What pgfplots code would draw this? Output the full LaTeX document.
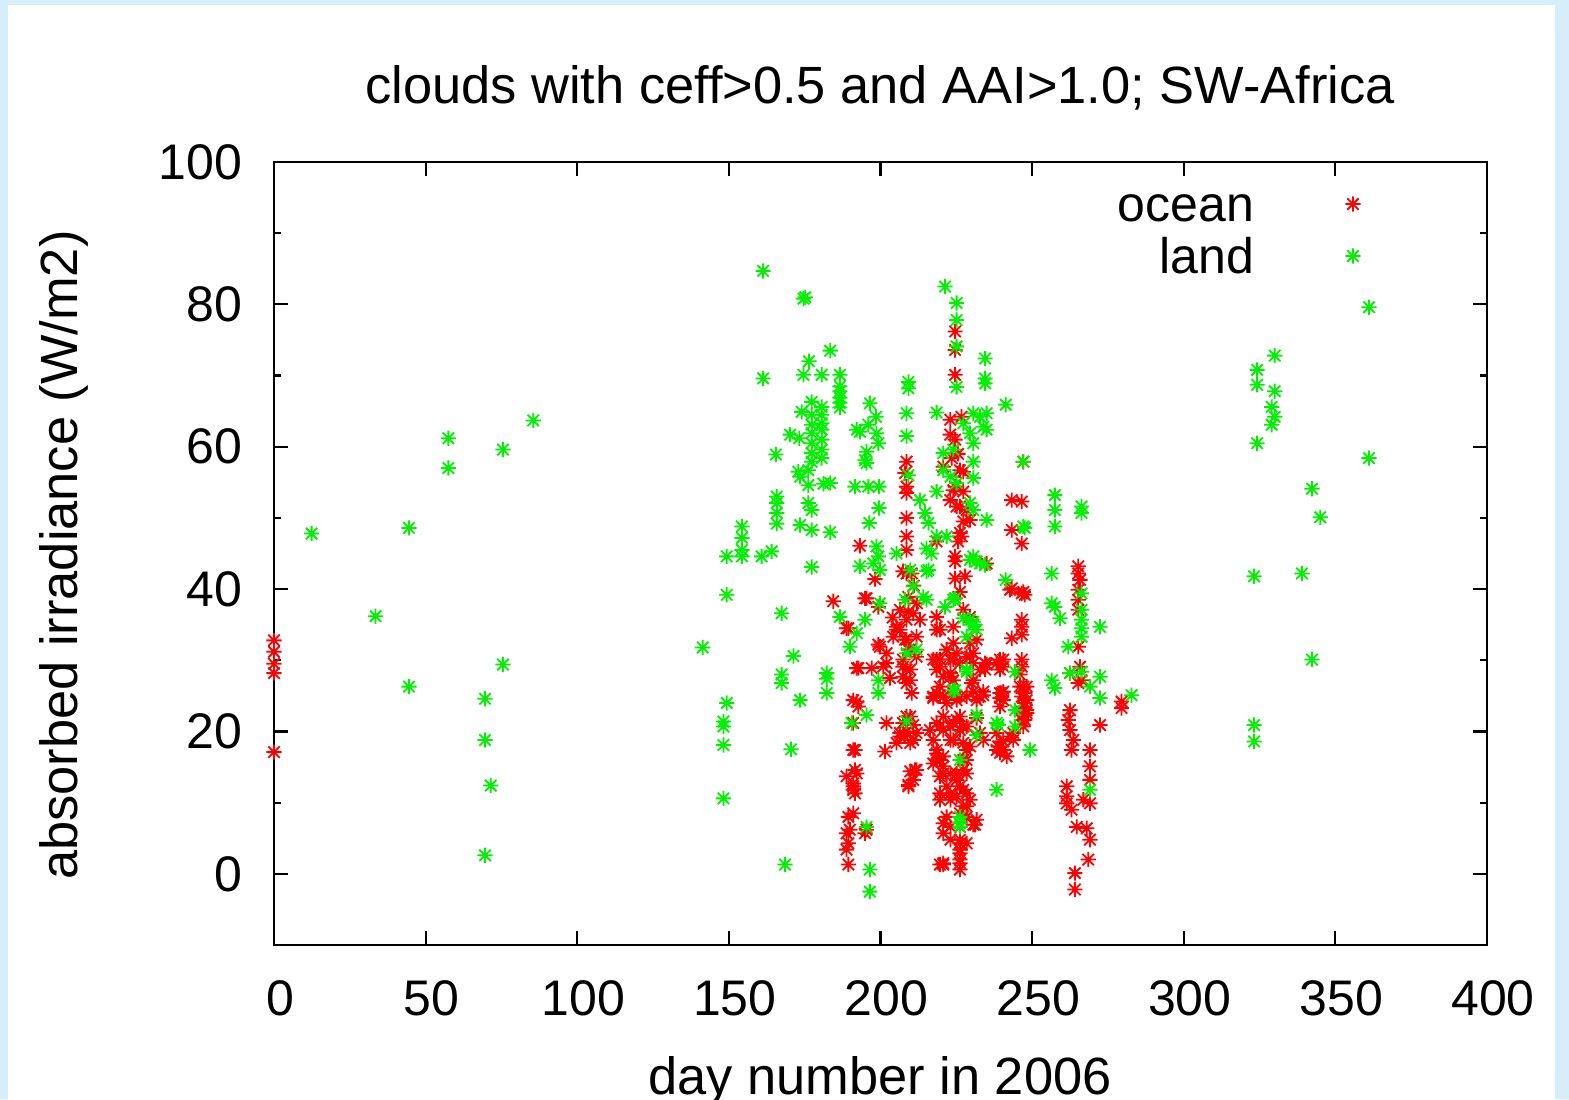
\documentclass[border=0pt]{standalone}
\usepackage{fontspec}
\setmainfont{Liberation Sans}
\usepackage{pgfplots}
\usepackage{pgfplotstable}
\pgfplotsset{compat=1.18}
\definecolor{framebg}{RGB}{214,238,250}
\definecolor{gpred}{RGB}{255,0,0}
\definecolor{gpgreen}{RGB}{0,240,0}
\pgfdeclareplotmark{gpstar}{%
  \pgfpathmoveto{\pgfqpoint{-\pgfplotmarksize}{0pt}}%
  \pgfpathlineto{\pgfqpoint{\pgfplotmarksize}{0pt}}%
  \pgfpathmoveto{\pgfqpoint{0pt}{-\pgfplotmarksize}}%
  \pgfpathlineto{\pgfqpoint{0pt}{\pgfplotmarksize}}%
  \pgfpathmoveto{\pgfqpoint{-.75\pgfplotmarksize}{-.75\pgfplotmarksize}}%
  \pgfpathlineto{\pgfqpoint{.75\pgfplotmarksize}{.75\pgfplotmarksize}}%
  \pgfpathmoveto{\pgfqpoint{-.75\pgfplotmarksize}{.75\pgfplotmarksize}}%
  \pgfpathlineto{\pgfqpoint{.75\pgfplotmarksize}{-.75\pgfplotmarksize}}%
  \pgfusepathqstroke}
\pgfplotstableread{
day val
0 32.8
0 31.2
0 29.5
0 28.2
0 17.1
184.4 38.3
193.2 46.1
195.4 38.7
198.2 41.4
189.4 34.5
199.3 32.2
206.4 34.3
208.6 32.9
209.8 31.5
207.4 30.1
208.6 28.7
209.8 27.2
192.2 28.9
197.1 28.9
200.9 29.1
192.2 24.2
191.0 21.2
202.0 21.2
191.0 17.4
201.5 17.2
188.8 13.7
192.2 14.1
191.0 12.7
191.0 11.8
189.4 8.0
191.0 8.5
189.9 6.2
189.4 4.3
189.4 1.3
195.4 6.2
209.8 14.4
211.4 14.6
209.2 12.5
206.4 19.3
208.6 20.0
210.8 18.8
207.4 21.2
209.8 22.1
205.3 18.4
220.7 1.5
218.5 17.4
220.7 16.5
217.4 15.5
219.6 13.7
217.4 24.9
219.6 26.3
221.8 24.0
220.7 22.1
221.8 31.5
224.0 30.1
219.6 29.1
223.1 27.7
205.3 34.7
204.2 33.3
208.6 35.7
206.4 37.1
210.8 36.6
213.0 35.7
218.5 36.1
219.6 34.3
224.0 34.7
224.6 76.2
224.6 73.6
224.6 70.1
223.0 63.8
226.7 64.2
223.0 61.7
223.5 58.4
220.7 57.2
226.2 56.7
224.0 53.9
227.3 53.7
223.0 52.5
225.1 51.6
228.4 51.1
229.5 49.7
226.2 47.9
226.8 47.4
224.6 44.6
224.6 41.5
208.6 57.9
208.1 56.3
208.6 54.4
208.6 53.5
208.6 50.0
208.6 47.4
208.6 45.5
208.6 42.2
210.3 42.2
207.4 42.5
243.3 52.5
246.6 52.3
243.3 48.3
246.6 46.4
247.1 57.9
218.5 46.7
235.0 43.6
242.7 39.9
247.1 39.6
194.9 38.7
199.3 37.5
209.2 38.9
209.2 36.8
224.6 38.7
188.8 34.5
246.6 35.7
246.6 34.7
243.3 33.1
218.5 34.3
205.3 34.3
211.9 33.3
208.1 32.9
209.2 31.5
211.9 30.5
199.8 31.9
192.7 28.9
202.0 29.6
203.1 27.5
207.4 29.1
207.4 27.7
208.6 26.8
209.8 28.7
210.3 25.4
218.5 30.1
224.0 32.4
218.5 28.7
219.6 25.1
217.4 24.7
226.2 29.6
228.4 30.5
230.6 31.0
230.1 26.8
232.8 28.7
235.0 29.4
238.3 29.6
225.1 24.4
228.4 24.9
231.7 24.4
239.4 24.7
246.6 30.1
246.6 29.1
246.0 28.0
248.2 26.3
246.6 24.9
247.6 24.0
248.2 23.0
246.6 21.6
243.8 19.8
239.4 17.0
232.8 24.9
233.9 25.6
240.5 25.6
239.4 23.5
191.0 24.4
192.7 23.5
191.6 17.4
191.6 14.6
191.0 12.3
191.6 11.3
208.6 22.1
210.8 20.9
211.9 19.8
208.1 19.3
209.8 18.4
206.4 19.8
211.9 14.6
209.2 12.3
210.8 13.2
216.3 20.2
219.6 20.7
217.4 18.8
218.5 16.9
224.0 21.2
226.2 20.2
228.4 20.7
226.2 22.1
224.0 18.8
219.6 16.0
220.7 14.1
221.8 12.3
219.6 10.4
223.1 11.3
225.1 13.2
228.4 14.1
227.3 16.0
228.4 17.4
221.8 8.0
223.1 6.6
220.7 5.7
226.2 8.5
226.2 6.6
226.2 4.8
226.2 3.4
226.2 2.0
226.2 0.6
228.4 4.3
219.6 1.3
230.6 6.9
231.7 7.6
228.4 11.3
229.5 10.4
227.3 9.5
226.2 12.3
239.4 17.9
238.3 19.8
241.6 16.5
231.7 21.9
232.8 19.8
233.9 18.8
194.9 5.7
188.8 5.7
188.8 3.4
243.3 40.1
246.6 39.4
247.6 39.2
246.6 33.6
240.5 30.1
239.4 28.7
247.1 26.3
247.1 25.4
247.1 22.6
240.0 25.4
238.8 17.9
240.5 17.4
243.8 18.8
265.2 43.2
265.2 42.2
265.8 41.3
265.2 39.9
265.2 38.5
265.2 37.1
265.2 31.9
265.8 29.1
266.3 27.2
265.2 26.8
262.5 28.2
262.5 23.0
261.9 21.6
262.5 20.2
263.6 18.8
263.0 17.4
269.1 17.4
269.1 15.1
269.1 13.2
266.9 10.4
269.1 9.9
261.4 10.9
261.4 9.9
263.0 9.0
261.4 12.3
264.7 6.6
268.0 6.4
269.1 4.8
268.5 2.0
264.1 0.1
264.1 -2.2
272.4 20.9
279.5 24.2
279.5 23.3
227.3 37.1
229.5 36.1
229.5 32.4
231.7 32.9
225.1 31.0
223.1 30.1
219.6 30.1
217.4 30.1
229.5 30.5
230.6 29.6
234.5 29.6
234.5 28.7
239.4 30.1
240.5 29.1
223.1 28.2
224.0 27.2
220.7 27.7
230.6 27.2
218.5 25.4
220.7 24.9
224.0 25.4
226.2 24.9
230.6 25.6
233.9 25.1
239.4 25.4
240.5 24.4
246.0 26.3
247.6 25.4
248.2 24.4
247.1 23.5
248.2 22.6
247.6 21.6
247.1 20.7
218.5 21.2
220.7 20.2
223.1 20.7
225.1 21.6
227.3 20.7
223.1 18.8
227.3 18.4
229.5 17.9
238.3 17.4
240.5 18.6
242.7 19.3
218.5 16.0
220.7 15.1
223.1 14.1
225.1 14.1
227.3 14.6
228.4 16.0
219.6 11.3
223.1 10.4
225.1 10.9
227.3 11.8
228.4 9.5
228.4 8.0
220.7 7.1
231.2 6.9
223.1 4.8
226.2 4.3
226.2 2.9
226.2 1.5
220.7 1.3
224.6 61.0
225.6 59.0
227.3 56.5
224.6 54.4
226.2 51.6
227.3 49.5
225.6 46.7
224.6 43.9
227.9 41.8
226.2 39.6
211.0 40.5
212.0 38.0
204.0 36.0
202.0 31.0
}\ocean
\pgfplotstableread{
day val
12.4 47.8
33.5 36.2
44.5 48.6
44.5 26.3
57.5 61.2
57.5 57.0
69.6 24.6
69.6 18.8
69.6 2.6
71.5 12.4
75.5 59.6
75.5 29.4
85.5 63.7
141.4 31.8
149.3 44.6
149.3 39.2
149.3 24.0
148.2 21.4
148.2 20.7
148.2 18.1
148.2 10.6
154.3 48.8
154.3 47.2
154.3 45.5
154.3 44.6
161.3 84.7
161.3 69.6
160.8 44.6
164.1 45.3
165.5 58.9
165.8 53.0
165.8 52.1
165.8 50.7
165.8 49.2
167.4 36.6
167.4 28.0
167.4 26.8
168.5 1.3
170.5 17.5
171.3 30.6
170.2 61.7
173.5 24.4
174.6 80.8
175.2 81.0
174.6 70.1
174.0 64.9
173.2 61.2
172.9 56.5
173.5 55.8
173.5 49.0
176.4 72.0
176.2 56.7
176.2 54.6
176.2 52.1
177.3 51.1
177.3 48.3
177.3 43.1
177.3 66.3
177.3 64.5
177.3 63.1
177.3 61.9
177.3 60.5
177.3 59.1
177.3 57.9
180.6 70.1
180.6 65.6
180.6 64.5
180.6 63.3
180.6 62.4
180.6 61.0
180.6 59.6
180.6 58.4
181.2 54.8
183.4 54.9
183.4 73.5
183.4 48.0
182.3 28.2
182.3 27.4
182.3 25.4
186.6 70.1
186.6 68.5
186.6 67.8
186.6 66.9
186.6 66.2
186.6 65.5
186.6 36.1
189.9 31.9
190.5 21.2
192.2 33.8
194.9 35.7
192.2 62.4
191.6 54.4
193.2 62.1
193.2 43.2
196.5 66.1
198.5 64.2
196.0 63.1
198.7 61.9
199.3 60.5
195.4 59.3
194.9 58.1
195.4 57.7
196.0 54.4
199.5 54.4
199.5 51.4
196.3 49.3
198.7 46.0
199.3 44.6
197.6 43.6
199.8 42.7
199.8 38.0
195.4 22.3
199.3 27.2
199.3 25.4
195.4 6.6
196.5 0.6
196.5 -2.5
208.6 21.4
208.6 31.0
210.8 40.4
215.2 38.5
209.2 69.1
209.2 68.2
208.6 64.7
208.6 61.5
218.5 64.8
221.3 82.5
225.1 80.2
225.1 77.8
225.1 74.1
225.1 68.4
234.5 72.4
234.5 69.6
234.5 68.9
241.3 65.9
205.3 45.0
209.2 56.0
213.0 52.5
214.7 50.7
215.8 49.3
218.5 53.7
218.5 47.4
215.2 45.7
216.8 45.0
221.8 47.4
209.8 42.7
215.2 42.5
220.7 59.1
224.0 59.6
220.7 56.7
223.1 55.8
225.1 54.9
227.3 63.3
230.6 64.7
232.8 64.2
233.9 62.8
235.0 62.4
235.0 64.7
229.5 61.9
230.6 60.5
230.6 57.9
230.6 55.6
229.5 52.1
230.6 51.1
235.0 49.7
230.6 44.6
231.7 43.9
232.8 43.6
247.1 57.9
241.3 41.3
247.6 48.6
215.8 42.7
208.1 38.5
214.1 38.9
224.0 38.5
230.6 35.0
229.5 35.7
228.4 33.3
231.7 34.3
211.9 31.5
228.4 28.4
224.0 25.8
244.4 28.4
231.7 22.3
231.7 19.5
238.8 20.9
244.4 23.0
244.4 20.7
249.3 17.4
238.3 11.8
226.2 16.0
226.2 8.0
226.2 7.1
257.5 53.2
257.5 51.1
257.5 48.8
266.3 51.6
266.3 50.7
247.1 48.8
256.5 42.2
256.5 38.0
257.5 37.5
259.2 35.9
266.3 39.4
266.3 37.1
266.3 35.7
266.3 34.5
266.3 33.3
272.4 34.7
261.9 31.9
256.5 27.2
257.5 26.1
262.5 28.2
266.3 28.4
269.1 26.3
272.4 27.7
272.4 24.7
282.8 25.1
238.3 21.2
269.1 11.8
229.5 44.1
234.5 43.4
224.6 38.7
221.3 37.5
227.3 35.9
230.6 35.4
228.4 28.7
224.6 25.8
226.2 6.6
361.1 79.6
324.2 70.8
324.2 68.7
330.0 72.8
330.0 67.8
329.0 65.6
330.0 64.2
329.0 63.1
324.2 60.5
361.1 58.4
342.3 54.1
345.0 50.1
323.2 41.8
339.0 42.2
342.3 30.1
323.2 20.9
323.2 18.6
}\landtab
\begin{document}
\begin{tikzpicture}
\useasboundingbox (0,0) rectangle (784.5pt,-549.5pt);
\fill[framebg] (0,0) rectangle (784.5pt,-549.5pt);
\fill[white] (4pt,-2.5pt) rectangle (777.5pt,-560pt);
\begin{axis}[
  at={(137pt,-472.5pt)}, anchor=south west,
  scale only axis, width=606.5pt, height=391.5pt,
  xmin=0, xmax=400, ymin=-10, ymax=100,
  xtick={0,50,...,400}, ytick={0,20,...,100},
  minor ytick={-10,10,30,50,70,90},
  major tick length=7pt, minor tick length=3.5pt,
  every tick/.style={line width=1.1pt, black},
  axis line style={line width=1.2pt},
  /pgf/number format/assume math mode=true,
  ticklabel style={font=\fontsize{25}{30}\selectfont},
  xticklabel style={yshift=-14.5pt, xshift=3pt},
  yticklabel style={xshift=-12.5pt},
  clip=false,
  legend cell align=right,
  legend plot pos=right,
  legend style={draw=none, fill=none, at={(0.9027,0.9706)}, anchor=north east,
    inner sep=0pt, outer sep=0pt, font=\fontsize{25}{30}\selectfont,
    row sep=0pt, column sep=0pt,
    nodes={inner sep=0pt, text height=18pt, text depth=8pt}},
  legend image code/.code={\draw[#1] plot coordinates {(49.5pt,3.5pt)}; \path[draw=none,fill=none] (0pt,0pt) -- (57.5pt,0pt);},
]
\addplot[only marks, mark=gpstar, mark size=3.8pt, color=gpred, mark options={line width=0.9pt}] table[x=day, y=val] {\ocean};
\addlegendentry{ocean}
\addplot[only marks, mark=gpstar, mark size=3.8pt, color=gpgreen, mark options={line width=0.9pt}] table[x=day, y=val] {\landtab};
\addlegendentry{land}
\end{axis}
\node[anchor=base, font=\fontsize{26.2}{31}\selectfont] at (440pt,-51.5pt) {clouds with ceff>0.5 and AAI>1.0; SW-Africa};
\node[anchor=base, rotate=90, font=\fontsize{26.2}{31}\selectfont] at (38.5pt,-277.5pt) {absorbed irradiance (W/m2)};
\node[anchor=base, font=\fontsize{26.2}{31}\selectfont] at (440pt,-547pt) {day number in 2006};
\end{tikzpicture}
\end{document}
